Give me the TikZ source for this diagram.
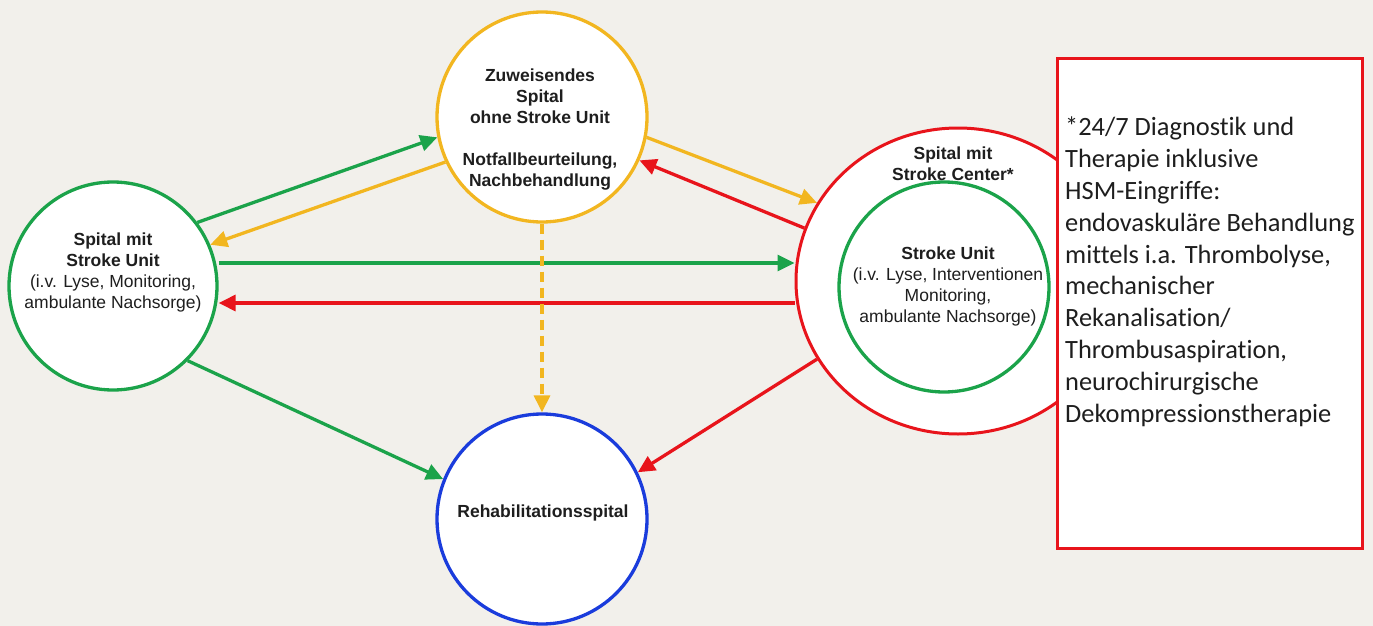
\documentclass[tikz,border=0pt]{standalone}
\usepackage{fontspec}
\setmainfont{Liberation Sans}
\newfontfamily\calfont[Ligatures={NoCommon}]{Carlito}
\usetikzlibrary{arrows.meta,shapes.geometric}
\definecolor{bgc}{HTML}{F2F0EB}
\definecolor{ggreen}{HTML}{1BA34A}
\definecolor{gyellow}{HTML}{F2B620}
\definecolor{gred}{HTML}{E8141B}
\definecolor{gblue}{HTML}{1A3CDC}
\definecolor{txt}{HTML}{1E1E1E}
\begin{document}
\begin{tikzpicture}[x=1pt,y=-1pt,
  circ/.style={circle, fill=white, line width=3.3pt, inner sep=0pt},
  lbl/.style={align=center, text=txt, inner sep=0pt, font=\fontsize{17.5}{21}\selectfont},
  conn/.style={line width=3.3pt, -{Triangle[length=17pt,width=16pt]}}]
\fill[bgc] (0,0) rectangle (1373,626);
\useasboundingbox (0,0) rectangle (1373,626);

% circles
\node[circ, draw=ggreen, minimum size=208pt] (L) at (113,286) {};
\node[circ, draw=gyellow, minimum size=210pt] (Y) at (542,117) {};
\node[circ, draw=gblue, minimum size=210pt] (B) at (542,519) {};
\node[ellipse, draw=gred, fill=white, line width=3pt, inner sep=0pt,
      minimum width=324pt, minimum height=306pt] (R) at (958,281) {};
\node[circ, draw=ggreen, minimum size=210pt] (SU) at (944,287) {};

% info box
\node[draw=gred, fill=white, line width=2.8pt, inner sep=0pt, anchor=north west,
      minimum width=305pt, minimum height=490pt] (box) at (1056,57) {};
\node[anchor=north west, align=left, inner sep=0pt, text=txt,
      font=\calfont\fontsize{26.4}{31.8}\selectfont] (boxtxt) at (1065,117)
  {*24/7 Diagnostik und\\Therapie inklusive\\HSM-Eingriffe:\\endovaskuläre Behandlung\\mittels i.a. Thrombolyse,\\mechanischer\\Rekanalisation/\\Thrombusaspiration,\\neurochirurgische\\Dekompressionstherapie};

% labels
\node[lbl] (Ltxt) at (113,272) {\textbf{Spital mit}\\\textbf{Stroke Unit}\\(i.v. Lyse, Monitoring,\\ambulante Nachsorge)};
\node[lbl] (Ytxt) at (540,130) {\textbf{Zuweisendes}\\\textbf{Spital}\\\textbf{ohne Stroke Unit}\\[21pt]\textbf{Notfallbeurteilung,}\\\textbf{Nachbehandlung}};
\node[lbl] (Btxt) at (543,513) {\textbf{Rehabilitationsspital}};
\node[lbl] (Rtxt) at (953,164) {\textbf{Spital mit}\\\textbf{Stroke Center*}};
\node[lbl] (SUtxt) at (948,286) {\textbf{Stroke Unit}\\(i.v. Lyse, Interventionen\\Monitoring,\\ambulante Nachsorge)};

% connectors
\draw[conn, ggreen] (L.37) -- (Y.191);
\draw[conn, gyellow] (Y.205) -- (L.23);
\draw[conn, ggreen] ([yshift=23pt]L.east) -- ([yshift=18pt]R.west);
\draw[conn, gred] ([yshift=-22pt]R.west) -- ([yshift=-17pt]L.east);
\draw[conn, ggreen] (L.315) -- (B.158);
\draw[conn, gyellow, dash pattern=on 10pt off 6pt] (Y.south) -- (B.north);
\draw[conn, gyellow] (Y.349) -- (R.151);
\draw[conn, gred] (R.161) -- (Y.336);
\draw[conn, gred] (R.209) -- (B.26);
\end{tikzpicture}
\end{document}
